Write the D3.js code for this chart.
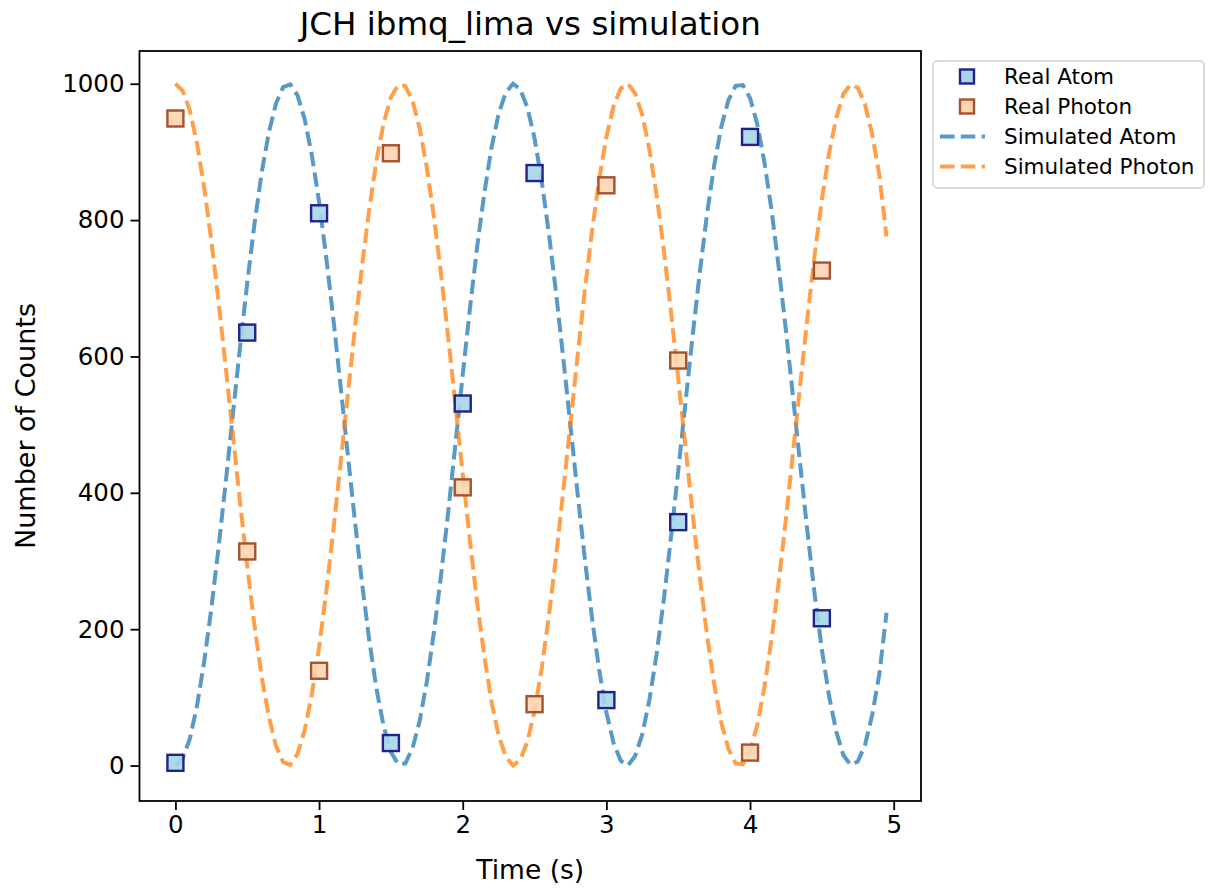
<!DOCTYPE html>
<html>
<head>
<meta charset="utf-8">
<script src="https://cdn.jsdelivr.net/npm/d3@7"></script>
<style>
  body { margin: 0; background: #fff; }
  svg { font-family: "DejaVu Sans", sans-serif; }
</style>
</head>
<body>
<div id="container"></div>
<script>
/* CONSTANTS AND GLOBALS */
const width = 1210,
    height = 890;

// real device points
const realTime = [0, 0.5, 1, 1.5, 2, 2.5, 3, 3.5, 4, 4.5];
const realAtom = [4, 635, 810, 33, 531, 869, 96, 357, 922, 216];
const realPhoton = [949, 314, 139, 898, 408, 90, 851, 594, 19, 726];

// simulation samples
const simTime = [0, 0.05, 0.1, 0.15, 0.2, 0.25, 0.3, 0.35, 0.4, 0.45,
    0.5, 0.55, 0.6, 0.65, 0.7, 0.75, 0.8, 0.85, 0.9, 0.95,
    1, 1.05, 1.1, 1.15, 1.2, 1.25, 1.3, 1.35, 1.4, 1.45,
    1.5, 1.55, 1.6, 1.65, 1.7, 1.75, 1.8, 1.85, 1.9, 1.95,
    2, 2.05, 2.1, 2.15, 2.2, 2.25, 2.3, 2.35, 2.4, 2.45,
    2.5, 2.55, 2.6, 2.65, 2.7, 2.75, 2.8, 2.85, 2.9, 2.95,
    3, 3.05, 3.1, 3.15, 3.2, 3.25, 3.3, 3.35, 3.4, 3.45,
    3.5, 3.55, 3.6, 3.65, 3.7, 3.75, 3.8, 3.85, 3.9, 3.95,
    4, 4.05, 4.1, 4.15, 4.2, 4.25, 4.3, 4.35, 4.4, 4.45,
    4.5, 4.55, 4.6, 4.65, 4.7, 4.75, 4.8, 4.85, 4.9, 4.95];
const simAtom = [0, 10, 39, 87, 152, 230, 319, 415, 515, 614,
    708, 794, 869, 928, 971, 995, 999, 983, 948, 895,
    827, 745, 654, 556, 456, 358, 266, 183, 112, 57,
    20, 2, 3, 25, 65, 123, 196, 281, 374, 473,
    573, 670, 760, 839, 906, 956, 987, 1000, 992, 965,
    920, 857, 780, 693, 597, 498, 398, 303, 216, 140,
    78, 33, 7, 0, 14, 46, 97, 164, 244, 335,
    432, 531, 630, 723, 808, 880, 937, 976, 997, 998,
    979, 941, 885, 814, 730, 638, 539, 440, 342, 251,
    170, 102, 50, 15, 1, 6, 30, 74, 134, 224];
const simPhoton = [1000, 990, 961, 913, 848, 770, 681, 585, 485, 386,
    292, 206, 131, 72, 29, 5, 1, 17, 52, 105,
    173, 255, 346, 444, 544, 642, 734, 817, 888, 943,
    980, 998, 997, 975, 935, 877, 804, 719, 626, 527,
    427, 330, 240, 161, 94, 44, 13, 0, 8, 35,
    80, 143, 220, 307, 403, 502, 602, 697, 784, 860,
    922, 967, 993, 1000, 986, 954, 903, 836, 756, 665,
    568, 469, 370, 277, 192, 120, 63, 24, 3, 2,
    21, 59, 115, 186, 270, 362, 461, 560, 658, 749,
    830, 898, 950, 985, 999, 994, 970, 926, 866, 776];

const xTicks = [0, 1, 2, 3, 4, 5];
const yTicks = [0, 200, 400, 600, 800, 1000];

const margin = { left: 139.5, right: 921, top: 51, bottom: 801 };

const svg = d3.select("#container")
    .append("svg")
    .attr("width", width)
    .attr("height", height);

// SCALES
const xScale = d3.scaleLinear()
    .domain([-0.25, 5.19])
    .range([margin.left, margin.right]);

const yScale = d3.scaleLinear()
    .domain([-52, 1048])
    .range([margin.bottom, margin.top]);

// AXES
const xAxis = d3.axisBottom(xScale).tickValues(xTicks).tickSize(9).tickPadding(6).tickFormat(d3.format("d"));
const yAxis = d3.axisLeft(yScale).tickValues(yTicks).tickSize(9).tickPadding(6).tickFormat(d3.format("d"));

const gx = svg.append("g")
    .attr("transform", "translate(0," + margin.bottom + ")")
    .call(xAxis);
const gy = svg.append("g")
    .attr("transform", "translate(" + margin.left + ",0)")
    .call(yAxis);

[gx, gy].forEach(g => {
    g.select(".domain").remove();
    g.selectAll("line").attr("stroke", "#000").attr("stroke-width", 1.8);
    g.selectAll("text").attr("fill", "#000").style("font-size", "24.5px")
        .style("font-family", "DejaVu Sans");
});

// SIM LINES
const line = d3.line()
    .x((d, i) => xScale(simTime[i]))
    .y(d => yScale(d));

svg.append("path")
    .datum(simAtom)
    .attr("d", line)
    .attr("fill", "none")
    .attr("stroke", "#1f77b4")
    .attr("stroke-opacity", 0.75)
    .attr("stroke-width", 4)
    .attr("stroke-dasharray", "14.5,6.3");

svg.append("path")
    .datum(simPhoton)
    .attr("d", line)
    .attr("fill", "none")
    .attr("stroke", "#ff7f0e")
    .attr("stroke-opacity", 0.75)
    .attr("stroke-width", 4)
    .attr("stroke-dasharray", "14.5,6.3");

// REAL POINTS
const sq = 16;
svg.selectAll("rect.atom")
    .data(realAtom)
    .join("rect")
    .attr("class", "atom")
    .attr("x", (d, i) => xScale(realTime[i]) - sq / 2)
    .attr("y", d => yScale(d) - sq / 2)
    .attr("width", sq)
    .attr("height", sq)
    .attr("fill", "#a6d6e8")
    .attr("fill-opacity", 0.9)
    .attr("stroke", "#22228a")
    .attr("stroke-width", 2.4);

svg.selectAll("rect.photon")
    .data(realPhoton)
    .join("rect")
    .attr("class", "photon")
    .attr("x", (d, i) => xScale(realTime[i]) - sq / 2)
    .attr("y", d => yScale(d) - sq / 2)
    .attr("width", sq)
    .attr("height", sq)
    .attr("fill", "#fdd5b1")
    .attr("fill-opacity", 0.9)
    .attr("stroke", "#a5522e")
    .attr("stroke-width", 2.4);

// FRAME
svg.append("rect")
    .attr("x", margin.left)
    .attr("y", margin.top)
    .attr("width", margin.right - margin.left)
    .attr("height", margin.bottom - margin.top)
    .attr("fill", "none")
    .attr("stroke", "#000")
    .attr("stroke-width", 1.8);

// LABELS
svg.append("text")
    .attr("x", (margin.left + margin.right) / 2)
    .attr("y", 35)
    .attr("text-anchor", "middle")
    .style("font-size", "32.5px")
    .text("JCH ibmq_lima vs simulation");

svg.append("text")
    .attr("x", (margin.left + margin.right) / 2)
    .attr("y", 879)
    .attr("text-anchor", "middle")
    .style("font-size", "26.5px")
    .text("Time (s)");

svg.append("text")
    .attr("transform", "rotate(-90)")
    .attr("x", -(margin.top + margin.bottom) / 2)
    .attr("y", 35)
    .attr("text-anchor", "middle")
    .style("font-size", "27px")
    .text("Number of Counts");

// LEGEND
const legendItems = ["Real Atom", "Real Photon", "Simulated Atom", "Simulated Photon"];
const legend = svg.append("g");
legend.append("rect")
    .attr("x", 933)
    .attr("y", 61)
    .attr("width", 271)
    .attr("height", 127)
    .attr("rx", 4)
    .attr("fill", "#fff")
    .attr("fill-opacity", 0.8)
    .attr("stroke", "#d0d0d0")
    .attr("stroke-width", 1.5);

const rowY = i => 76.5 + i * 30;
legend.append("rect")
    .attr("x", 967 - 7).attr("y", rowY(0) - 7).attr("width", 14).attr("height", 14)
    .attr("fill", "#a6d6e8").attr("stroke", "#22228a").attr("stroke-width", 2.4);
legend.append("rect")
    .attr("x", 967 - 7).attr("y", rowY(1) - 7).attr("width", 14).attr("height", 14)
    .attr("fill", "#fdd5b1").attr("stroke", "#a5522e").attr("stroke-width", 2.4);
legend.append("line")
    .attr("x1", 940).attr("x2", 985).attr("y1", rowY(2)).attr("y2", rowY(2))
    .attr("stroke", "#1f77b4").attr("stroke-opacity", 0.75).attr("stroke-width", 4)
    .attr("stroke-dasharray", "14.5,6.3");
legend.append("line")
    .attr("x1", 940).attr("x2", 985).attr("y1", rowY(3)).attr("y2", rowY(3))
    .attr("stroke", "#ff7f0e").attr("stroke-opacity", 0.75).attr("stroke-width", 4)
    .attr("stroke-dasharray", "14.5,6.3");

legend.selectAll("text")
    .data(legendItems)
    .join("text")
    .attr("x", 1004)
    .attr("y", (d, i) => rowY(i) + 7.5)
    .style("font-size", "21.5px")
    .text(d => d);
</script>
</body>
</html>
